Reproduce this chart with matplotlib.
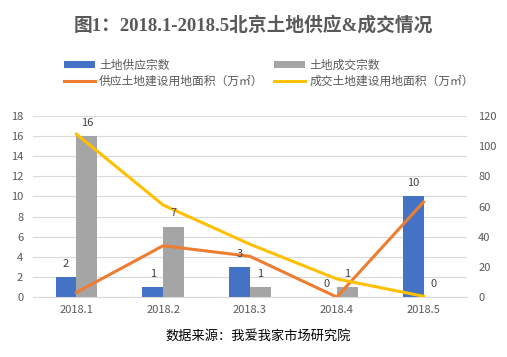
import numpy as np
import matplotlib
matplotlib.use('Agg')
import matplotlib.pyplot as plt

plt.rcParams['font.family'] = ['Noto Sans CJK SC', 'DejaVu Sans']

months = ['2018.1', '2018.2', '2018.3', '2018.4', '2018.5']
supply_count = [2, 1, 3, 0, 10]
deal_count = [16, 7, 1, 1, 0]
supply_area = [3, 34, 27, 0, 63]
deal_area = [108, 61, 35, 12, 0.5]

blue = '#4472C4'
gray = '#A5A5A5'
orange = '#ED7D31'
yellow = '#FFC000'
txt = '#595959'

fig = plt.figure(figsize=(5.07, 3.57), dpi=100)
ax = fig.add_axes([0.065, 0.168, 0.856, 0.507])
ax2 = ax.twinx()

x = np.arange(len(months))
w = 0.24
b1 = ax.bar(x - w / 2, supply_count, w, color=blue, label='土地供应宗数', zorder=2)
b2 = ax.bar(x + w / 2, deal_count, w, color=gray, label='土地成交宗数', zorder=2)

l1, = ax2.plot(x, supply_area, color=orange, lw=2.2, label='供应土地建设用地面积（万㎡）')
l2, = ax2.plot(x, deal_area, color=yellow, lw=2.2, label='成交土地建设用地面积（万㎡）')

ax.set_xlim(-0.5, 4.5)
ax.set_ylim(0, 18)
ax.set_yticks(range(0, 19, 2))
ax2.set_ylim(0, 120)
ax2.set_yticks(range(0, 121, 20))

# value labels drawn on the top axes so the lines do not cover them
scale = 120 / 18
for bars, vals in ((b1, supply_count), (b2, deal_count)):
    for r, v in zip(bars, vals):
        ax2.annotate(str(v), (r.get_x() + r.get_width() / 2, r.get_height() * scale),
                     xytext=(0, 6), textcoords='offset points', ha='center', va='bottom',
                     fontsize=8, color='#404040')

ax.set_xticks(x)
ax.set_xticklabels(months)
ax.grid(axis='y', color='#D9D9D9', lw=0.8, zorder=0)
ax.set_axisbelow(True)
for a in (ax, ax2):
    for s in a.spines.values():
        s.set_visible(False)
    a.tick_params(length=0, labelsize=8, labelcolor=txt)
ax.spines['bottom'].set_visible(True)
ax.spines['bottom'].set_color('#D9D9D9')
ax.tick_params(axis='y', pad=7)
ax.tick_params(axis='x', pad=6)
ax2.tick_params(axis='y', pad=8)

fig.legend([b1, l1, b2, l2], [b1.get_label(), l1.get_label(), b2.get_label(), l2.get_label()],
           ncol=2, loc='upper left', bbox_to_anchor=(0.105, 0.865), frameon=False,
           fontsize=8.5, labelcolor=txt, handlelength=2.6, handleheight=0.6,
           columnspacing=0.9, labelspacing=0.25, handletextpad=0.4)

fig.text(0.5, 0.93, '图1：2018.1-2018.5北京土地供应&成交情况', ha='center', va='center',
         fontsize=13.5, fontweight='bold', color=txt,
         family=['Liberation Serif', 'Noto Sans CJK SC'])
fig.text(0.51, 0.055, '数据来源：我爱我家市场研究院', ha='center', va='center',
         fontsize=9.5, color='black')

fig.savefig('out.png', dpi=100)
